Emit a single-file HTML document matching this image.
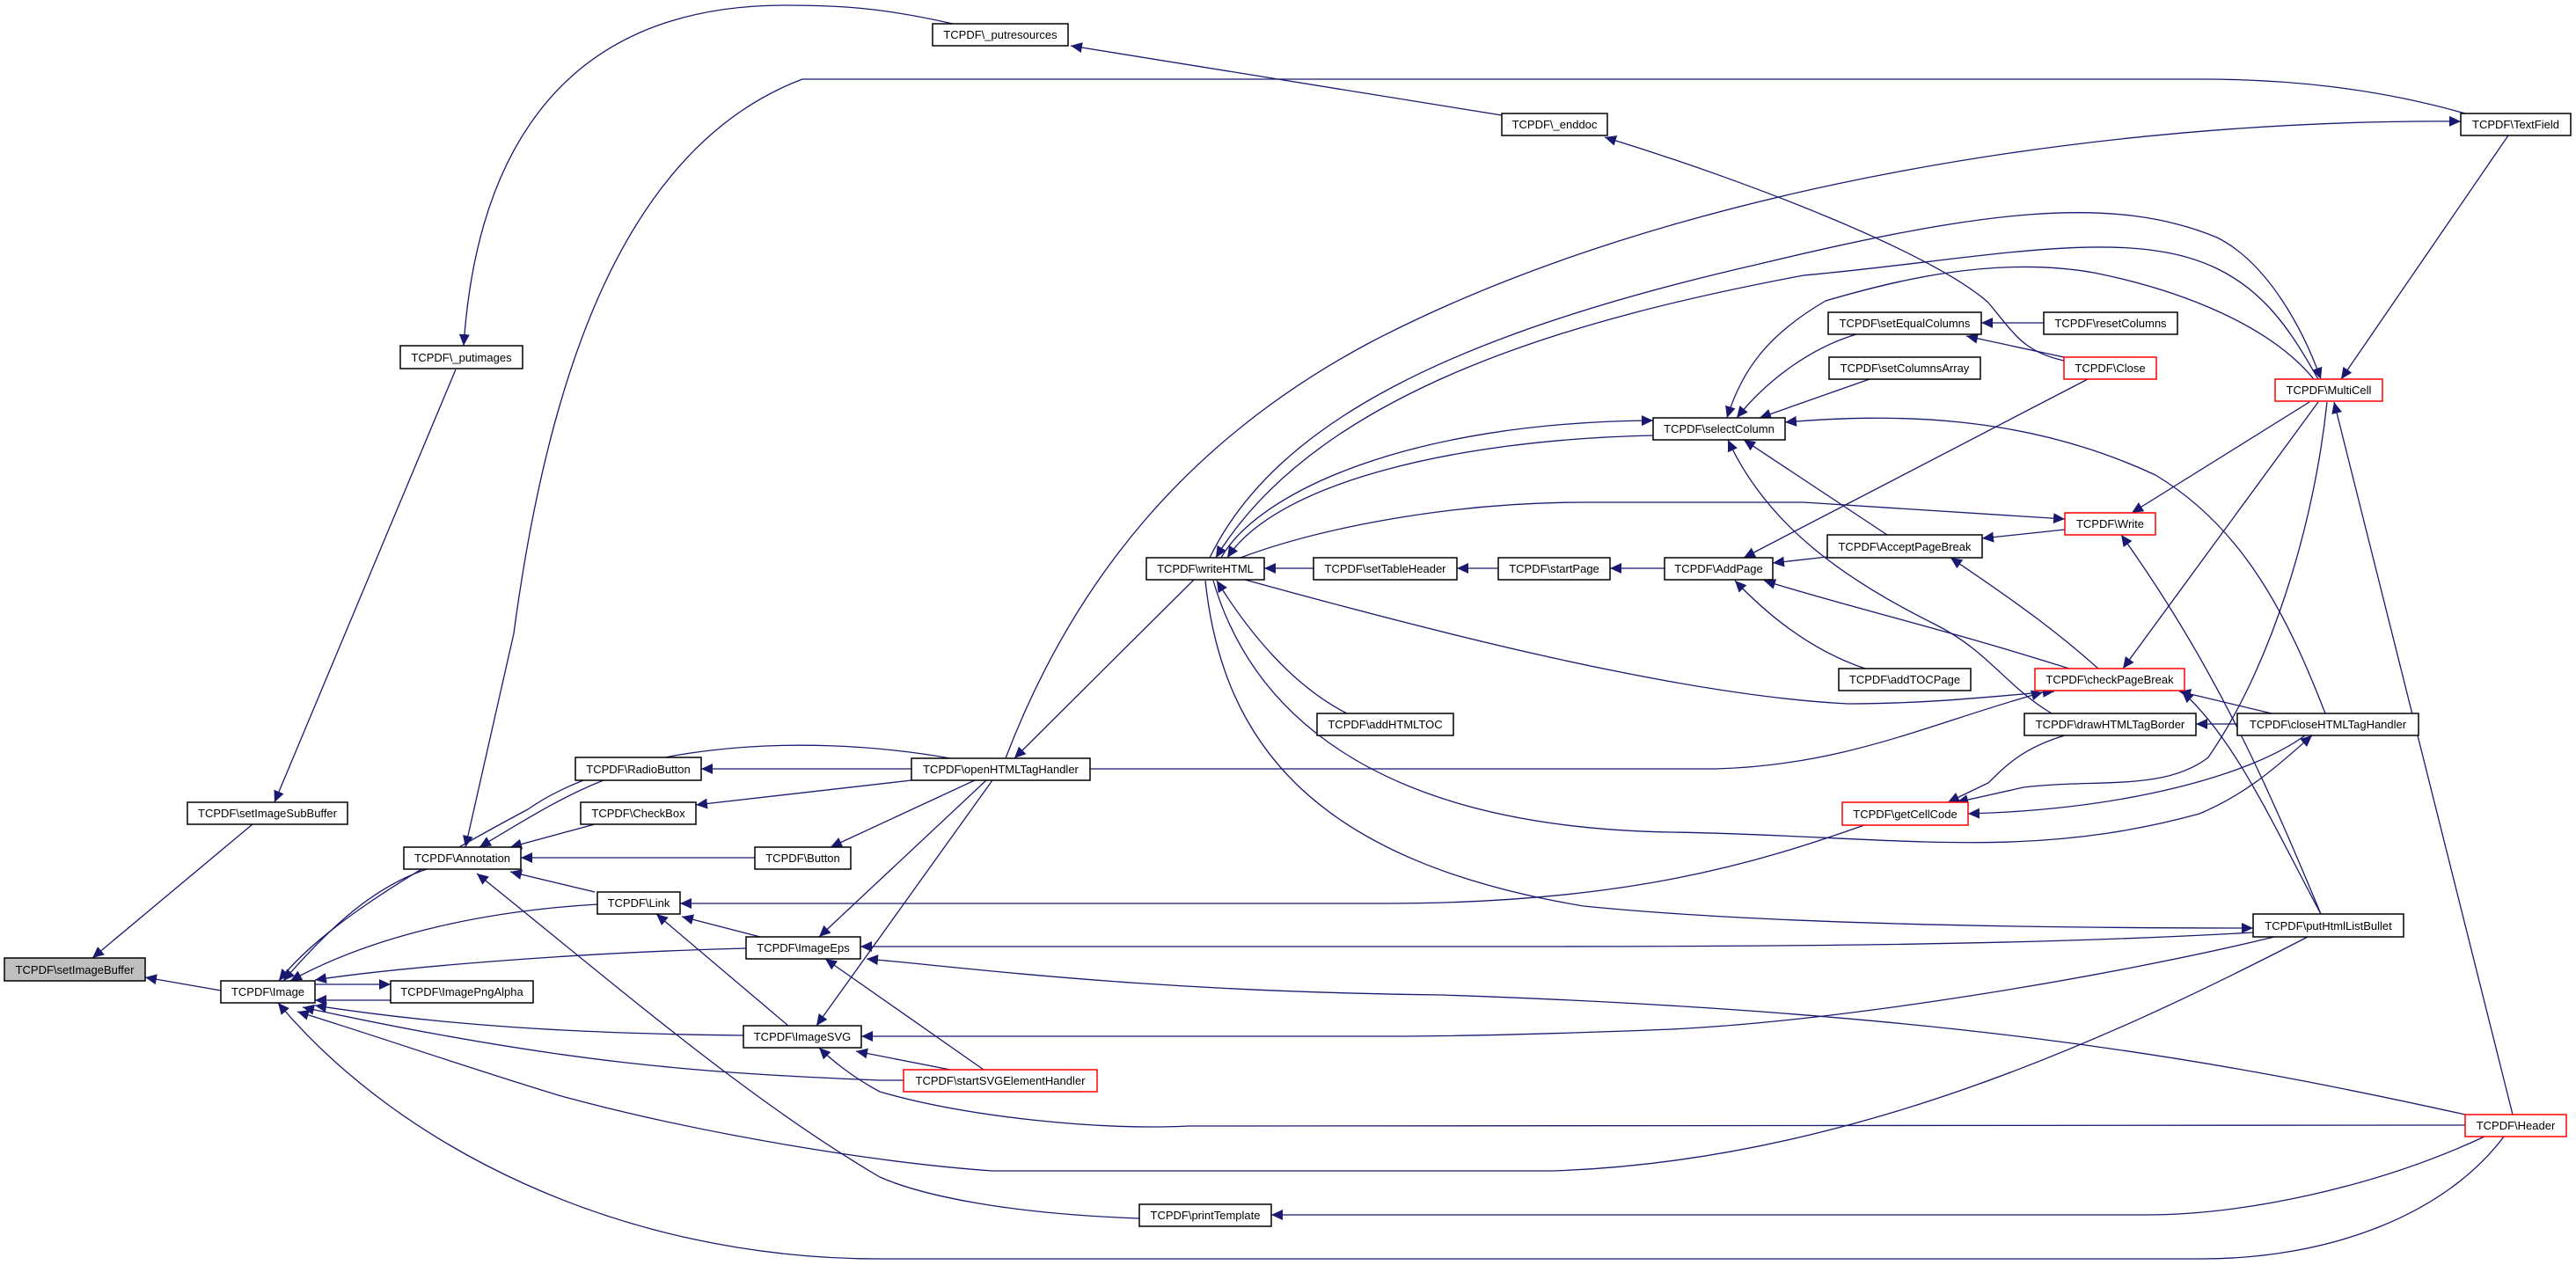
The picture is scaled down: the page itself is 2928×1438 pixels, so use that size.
<!DOCTYPE html>
<html><head><meta charset="utf-8"><style>
html,body{margin:0;padding:0;background:#fff;}
svg{display:block;}
text{font-family:"Liberation Sans",sans-serif;font-size:13px;fill:#000;}
</style></head><body>
<svg width="2928" height="1438" viewBox="0 0 2928 1438" xmlns="http://www.w3.org/2000/svg">
<defs>
<marker id="a" markerUnits="userSpaceOnUse" markerWidth="14" markerHeight="12" refX="13" refY="6" orient="auto">
<path d="M0,0 L13,6 L0,12 Z" fill="#191970"/>
</marker>
</defs>
<g fill="none" stroke="#191970" stroke-width="1.3" marker-end="url(#a)">
<path d="M251,1126 L165,1111"/>
<path d="M287,937 L105,1089"/>
<path d="M518,420 L312,912"/>
<path d="M1083,27 C1000,8 950,6 893,6 C620,6 540,200 527,393"/>
<path d="M1707,131 L1217,52"/>
<path d="M2346,410 C2300,400 2290,380 2260,344 C2200,290 2000,210 1824,156"/>
<path d="M2802,129 C2700,100 2600,90 2502,90 L912,90 C700,170 620,450 584,720 L529,963"/>
<path d="M2851,154 L2661,431"/>
<path d="M1375,634 C1450,480 1650,380 2000,300 C2250,240 2400,220 2520,270 C2580,300 2620,380 2638,431"/>
<path d="M2635,431 C2600,370 2560,300 2450,285 C2350,270 2200,300 2050,313 C1800,360 1500,440 1382,634"/>
<path d="M2630,431 C2580,370 2480,330 2380,310 C2266,290 2150,320 2075,342 C2010,380 1980,420 1963,475"/>
<path d="M1388,634 C1430,560 1600,480 1879,478"/>
<path d="M1879,495 C1650,500 1450,550 1395,634"/>
<path d="M1143,862 C1220,660 1350,500 1556,390 C1900,210 2400,135 2797,138"/>
<path d="M1410,634 C1500,600 1650,571 1800,571 L2050,571 L2347,590"/>
<path d="M1415,659 C1600,710 1900,790 2100,800 C2200,800 2280,790 2335,786"/>
<path d="M1531,811 C1470,780 1420,720 1383,660"/>
<path d="M1379,660 C1420,800 1550,940 1900,946 C2150,950 2300,980 2500,925 C2560,900 2600,860 2628,836"/>
<path d="M1370,660 C1390,850 1500,980 1800,1030 C2000,1050 2300,1055 2561,1055"/>
<path d="M1357,659 L1153,862"/>
<path d="M1493,646 L1437,646"/>
<path d="M1703,646 L1656,646"/>
<path d="M1892,646 L1830,646"/>
<path d="M2373,431 L1982,634"/>
<path d="M2077,633 L2015,640"/>
<path d="M2352,760 C2200,712 2100,690 2005,660"/>
<path d="M2120,760 C2060,740 2010,700 1972,660"/>
<path d="M2110,380 C2060,395 2010,430 1974,475"/>
<path d="M2125,431 L2000,475"/>
<path d="M2643,811 C2600,700 2550,600 2450,540 C2300,470 2150,470 2029,480"/>
<path d="M2145,608 L1982,500"/>
<path d="M2332,811 C2280,780 2260,740 2200,710 C2100,660 2010,600 1964,500"/>
<path d="M2323,367 L2252,367"/>
<path d="M2346,406 L2235,382"/>
<path d="M2625,457 L2423,583"/>
<path d="M2635,457 L2413,760"/>
<path d="M2645,457 C2630,600 2580,760 2510,861 C2460,900 2380,885 2300,895 L2224,912"/>
<path d="M2856,1267 L2653,457"/>
<path d="M2638,1039 C2580,900 2520,760 2411,608"/>
<path d="M2347,602 L2253,612"/>
<path d="M2385,760 C2340,720 2300,690 2217,634"/>
<path d="M2582,811 L2477,786"/>
<path d="M2638,1039 C2580,930 2540,840 2480,786"/>
<path d="M2543,823 L2496,823"/>
<path d="M2347,836 C2300,850 2280,870 2260,890 L2214,912"/>
<path d="M2620,836 C2560,880 2420,920 2237,925"/>
<path d="M2119,938 C2000,980 1850,1027 1574,1027 L773,1027"/>
<path d="M2561,1060 C2300,1075 2000,1076 1700,1076 L978,1076"/>
<path d="M2585,1065 C2400,1110 2100,1160 1900,1170 C1700,1178 1600,1178 1574,1178 L979,1178"/>
<path d="M2623,1065 C2400,1180 2100,1320 1765,1331 L1128,1331 C1000,1322 800,1290 638,1246 C520,1210 420,1175 338,1150"/>
<path d="M2846,1292 C2780,1380 2650,1431 2502,1431 L1000,1431 C700,1431 450,1300 316,1140"/>
<path d="M2802,1267 C2500,1200 2200,1150 1638,1131 C1300,1127 1100,1100 985,1090"/>
<path d="M2802,1279 L1351,1280 C1250,1285 1100,1270 1000,1241 C970,1225 945,1205 931,1191"/>
<path d="M2824,1292 C2700,1350 2550,1381 2438,1381 L1445,1381"/>
<path d="M1295,1385 C1150,1380 1050,1360 1000,1338 C850,1250 700,1120 542,993"/>
<path d="M1027,1228 L1000,1228 C800,1220 638,1209 344,1145"/>
<path d="M1080,862 C900,830 700,850 600,920 C450,1000 360,1060 317,1115"/>
<path d="M485,988 C420,1010 370,1060 322,1115"/>
<path d="M679,1028 C560,1035 430,1060 330,1115"/>
<path d="M848,1078 C650,1083 450,1100 358,1114"/>
<path d="M358,1119 L444,1119"/>
<path d="M444,1137 L358,1137"/>
<path d="M845,1177 C650,1175 500,1165 358,1143"/>
<path d="M686,887 C640,905 600,930 545,963"/>
<path d="M676,937 L580,963"/>
<path d="M858,975 L592,975"/>
<path d="M676,1014 L580,991"/>
<path d="M1036,874 L797,874"/>
<path d="M1036,887 L791,915"/>
<path d="M1108,887 L944,963"/>
<path d="M864,1065 L775,1042"/>
<path d="M896,1166 L746,1039"/>
<path d="M1121,887 L931,1065"/>
<path d="M1128,887 L928,1166"/>
<path d="M1118,1216 L938,1090"/>
<path d="M1080,1216 L973,1195"/>
<path d="M1239,874 L1950,874 C2100,870 2200,820 2322,787"/>
</g>
<g stroke-width="1.5">
<rect x="5" y="1089" width="160" height="26" fill="#bfbfbf" stroke="#000"/>
<rect x="251" y="1115" width="107" height="25" fill="#fff" stroke="#000"/>
<rect x="213" y="912" width="182" height="25" fill="#fff" stroke="#000"/>
<rect x="455" y="393" width="139" height="26" fill="#fff" stroke="#000"/>
<rect x="1060" y="27" width="154" height="25" fill="#fff" stroke="#000"/>
<rect x="1707" y="129" width="120" height="25" fill="#fff" stroke="#000"/>
<rect x="2797" y="129" width="125" height="25" fill="#fff" stroke="#000"/>
<rect x="459" y="963" width="133" height="25" fill="#fff" stroke="#000"/>
<rect x="654" y="861" width="143" height="26" fill="#fff" stroke="#000"/>
<rect x="660" y="912" width="131" height="25" fill="#fff" stroke="#000"/>
<rect x="858" y="963" width="109" height="25" fill="#fff" stroke="#000"/>
<rect x="679" y="1014" width="94" height="25" fill="#fff" stroke="#000"/>
<rect x="848" y="1065" width="130" height="25" fill="#fff" stroke="#000"/>
<rect x="444" y="1115" width="162" height="25" fill="#fff" stroke="#000"/>
<rect x="845" y="1166" width="134" height="25" fill="#fff" stroke="#000"/>
<rect x="1036" y="862" width="203" height="25" fill="#fff" stroke="#000"/>
<rect x="1027" y="1216" width="220" height="25" fill="#fff" stroke="#ff0000"/>
<rect x="1295" y="1369" width="150" height="25" fill="#fff" stroke="#000"/>
<rect x="1303" y="634" width="134" height="25" fill="#fff" stroke="#000"/>
<rect x="1493" y="634" width="163" height="25" fill="#fff" stroke="#000"/>
<rect x="1703" y="634" width="127" height="25" fill="#fff" stroke="#000"/>
<rect x="1892" y="634" width="123" height="25" fill="#fff" stroke="#000"/>
<rect x="1879" y="475" width="150" height="25" fill="#fff" stroke="#000"/>
<rect x="2078" y="355" width="174" height="25" fill="#fff" stroke="#000"/>
<rect x="2323" y="355" width="152" height="25" fill="#fff" stroke="#000"/>
<rect x="2079" y="406" width="172" height="25" fill="#fff" stroke="#000"/>
<rect x="2346" y="406" width="105" height="25" fill="#fff" stroke="#ff0000"/>
<rect x="2586" y="431" width="122" height="25" fill="#fff" stroke="#ff0000"/>
<rect x="2347" y="583" width="103" height="25" fill="#fff" stroke="#ff0000"/>
<rect x="2077" y="608" width="176" height="26" fill="#fff" stroke="#000"/>
<rect x="1497" y="811" width="155" height="25" fill="#fff" stroke="#000"/>
<rect x="2090" y="760" width="150" height="25" fill="#fff" stroke="#000"/>
<rect x="2313" y="760" width="170" height="25" fill="#fff" stroke="#ff0000"/>
<rect x="2301" y="811" width="195" height="25" fill="#fff" stroke="#000"/>
<rect x="2543" y="811" width="206" height="25" fill="#fff" stroke="#000"/>
<rect x="2094" y="912" width="143" height="26" fill="#fff" stroke="#ff0000"/>
<rect x="2561" y="1039" width="171" height="26" fill="#fff" stroke="#000"/>
<rect x="2802" y="1267" width="115" height="25" fill="#fff" stroke="#ff0000"/>
</g>
<g text-anchor="middle">
<text x="85" y="1107">TCPDF\setImageBuffer</text>
<text x="304.5" y="1132">TCPDF\Image</text>
<text x="304" y="929">TCPDF\setImageSubBuffer</text>
<text x="524.5" y="411">TCPDF\_putimages</text>
<text x="1137" y="44">TCPDF\_putresources</text>
<text x="1767" y="146">TCPDF\_enddoc</text>
<text x="2859.5" y="146">TCPDF\TextField</text>
<text x="525.5" y="980">TCPDF\Annotation</text>
<text x="725.5" y="879">TCPDF\RadioButton</text>
<text x="725.5" y="929">TCPDF\CheckBox</text>
<text x="912.5" y="980">TCPDF\Button</text>
<text x="726" y="1031">TCPDF\Link</text>
<text x="913" y="1082">TCPDF\ImageEps</text>
<text x="525" y="1132">TCPDF\ImagePngAlpha</text>
<text x="912" y="1183">TCPDF\ImageSVG</text>
<text x="1137.5" y="879">TCPDF\openHTMLTagHandler</text>
<text x="1137" y="1233">TCPDF\startSVGElementHandler</text>
<text x="1370" y="1386">TCPDF\printTemplate</text>
<text x="1370" y="651">TCPDF\writeHTML</text>
<text x="1574.5" y="651">TCPDF\setTableHeader</text>
<text x="1766.5" y="651">TCPDF\startPage</text>
<text x="1953.5" y="651">TCPDF\AddPage</text>
<text x="1954" y="492">TCPDF\selectColumn</text>
<text x="2165" y="372">TCPDF\setEqualColumns</text>
<text x="2399" y="372">TCPDF\resetColumns</text>
<text x="2165" y="423">TCPDF\setColumnsArray</text>
<text x="2398.5" y="423">TCPDF\Close</text>
<text x="2647" y="448">TCPDF\MultiCell</text>
<text x="2398.5" y="600">TCPDF\Write</text>
<text x="2165" y="626">TCPDF\AcceptPageBreak</text>
<text x="1574.5" y="828">TCPDF\addHTMLTOC</text>
<text x="2165" y="777">TCPDF\addTOCPage</text>
<text x="2398" y="777">TCPDF\checkPageBreak</text>
<text x="2398.5" y="828">TCPDF\drawHTMLTagBorder</text>
<text x="2646" y="828">TCPDF\closeHTMLTagHandler</text>
<text x="2165.5" y="930">TCPDF\getCellCode</text>
<text x="2646.5" y="1057">TCPDF\putHtmlListBullet</text>
<text x="2859.5" y="1284">TCPDF\Header</text>
</g>
</svg>
</body></html>
